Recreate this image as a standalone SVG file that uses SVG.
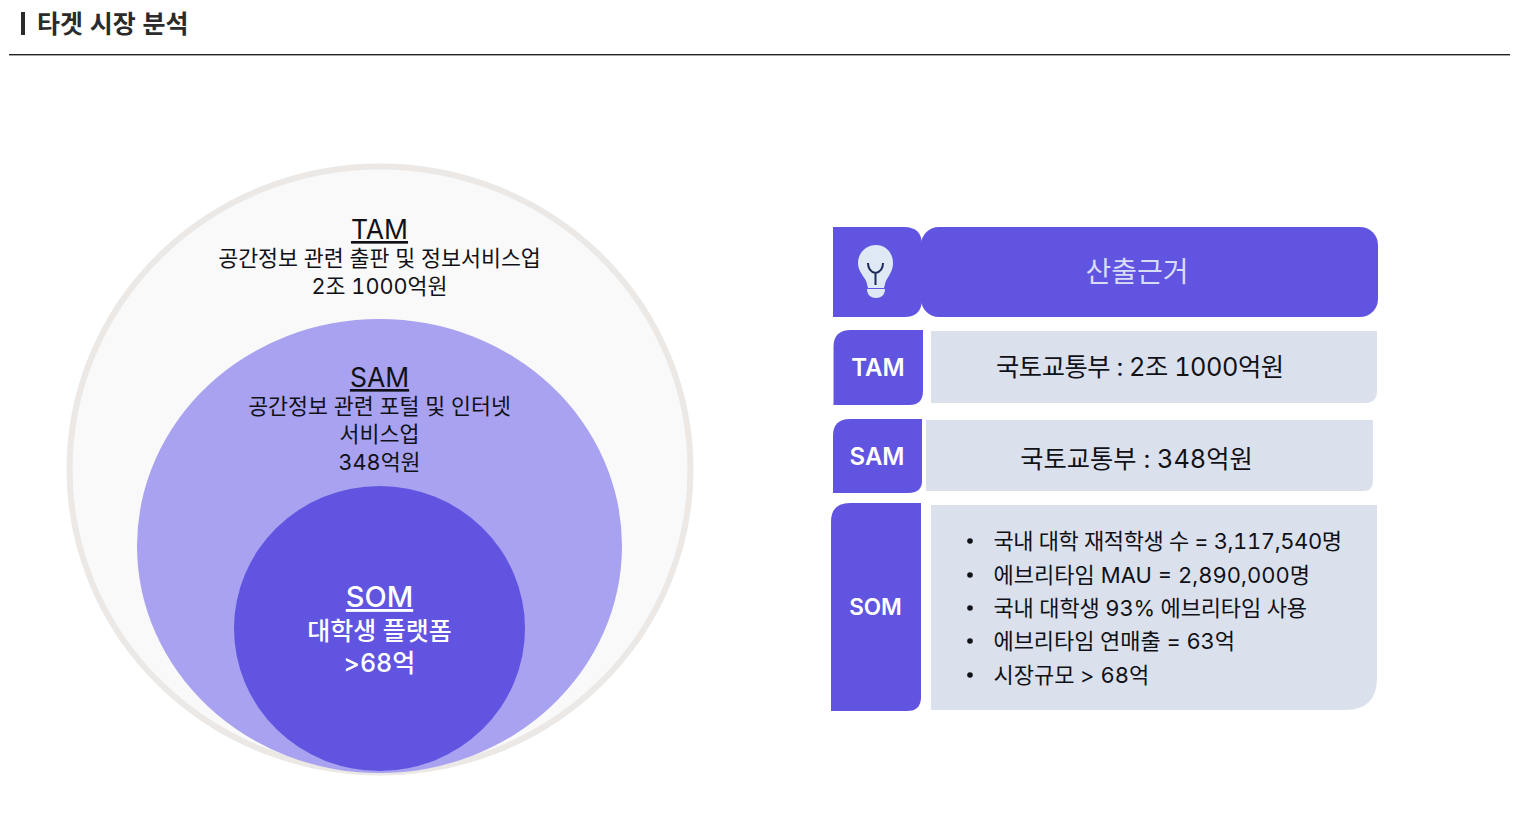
<svg xmlns="http://www.w3.org/2000/svg" width="1530" height="814" viewBox="0 0 1530 814">
<style>
text{font-family:"Inter","Noto Sans CJK KR","Noto Sans",sans-serif;fill:#111118;font-variant-numeric:tabular-nums}
.c{text-anchor:middle}
.p{fill:#6054e0}
.b{fill:#dbe1ec}
.w{fill:#fff}
.t{font-size:21.7px}
.h{font-size:26.5px;text-decoration:underline;text-decoration-thickness:1.5px}
.l{font-size:22px}
.cell{font-size:24px;font-weight:600;fill:#fff}
</style>
<rect width="1530" height="814" fill="#fff"/>
<g id="title">
<rect x="21" y="12" width="4" height="23" fill="#2b2b2b"/>
<text x="37" y="32.500" style="font-size:25px;font-weight:600;fill:#2b2b2b">타겟 시장 분석</text>
<rect x="9" y="54" width="1501" height="1.4" fill="#222"/>
</g>
<g id="tam-circle">
<ellipse cx="380" cy="469.500" rx="310.500" ry="303" fill="#f9f9f9" stroke="#ebe8e6" stroke-width="6"/>
<text class="c h" x="379.500" y="239">TAM</text>
<text class="c t" x="379.500" y="266">공간정보 관련 출판 및 정보서비스업</text>
<text class="c t" x="379.500" y="294">2조 1000억원</text>
</g>
<g id="sam-circle">
<ellipse cx="379.500" cy="546" rx="242.500" ry="227" fill="#a8a2f0"/>
<text class="c h" x="379.500" y="387">SAM</text>
<text class="c t" x="379.500" y="414">공간정보 관련 포털 및 인터넷</text>
<text class="c t" x="379.500" y="442">서비스업</text>
<text class="c t" x="379.500" y="470">348억원</text>
</g>
<g id="som-circle">
<ellipse cx="379.500" cy="628.500" rx="145.500" ry="142.500" class="p"/>
<text class="c h w" x="379.500" y="607" style="font-size:29px;font-weight:500">SOM</text>
<text class="c w" x="379.500" y="639.500" style="font-size:25px;font-weight:500">대학생 플랫폼</text>
<text class="c w" x="379.500" y="671.500" style="font-size:25px;font-weight:500">&gt;68억</text>
</g>
<g id="icon-cell">
<path class="p" d="M833 227H904Q922 227 922 245V299Q922 317 904 317H833Z"/>
<path d="M876 245C866 245 858 253 858 263C858 270 862 274 865 279C867 282 867 285 868 288H884C885 285 885 282 887 279C890 274 893 270 893 263C893 253 886 245 876 245Z" fill="#dfe9f5"/>
<path d="M867 289H885C885 294 882 298 876 298C870 298 867 294 867 289Z" fill="#dfe9f5"/>
<path d="M868 263C868 269 871 272 875.500 273C880 272 883 269 883 263M875.500 273V285" fill="none" stroke="#1e2a5a" stroke-width="2"/>
</g>
<g id="header">
<rect class="p" x="921" y="227" width="457" height="90" rx="18"/>
<text class="c" x="1137" y="281.500" style="font-size:28px;fill:#d9dcf7">산출근거</text>
</g>
<g id="tam-row">
<path class="p" d="M833.500 347Q833.500 330 851 330H923V391Q923 405 909 405H833.500Z"/>
<text class="c cell" x="878" y="376">TAM</text>
<path class="b" d="M931 331H1377V391Q1377 403 1365 403H931Z"/>
<text class="c" x="1140" y="375.500" style="font-size:25.300px" textLength="288" lengthAdjust="spacing">국토교통부 : 2조 1000억원</text>
</g>
<g id="sam-row">
<path class="p" d="M833 436Q833 419 850 419H922V481Q922 493 908 493H833Z"/>
<text class="c cell" x="877" y="465">SAM</text>
<path class="b" d="M926 420H1373V481Q1373 491 1363 491H926Z"/>
<text class="c" x="1136.500" y="467.500" style="font-size:25.300px">국토교통부 : 348억원</text>
</g>
<g id="som-row">
<path class="p" d="M831 522Q831 503 850 503H921V697Q921 711 907 711H831Z"/>
<text class="c cell" x="875.500" y="615" style="font-size:22.500px">SOM</text>
<path class="b" d="M931 505H1377V678Q1377 710 1345 710H931Z"/>
<g fill="#111118">
<circle cx="970" cy="541" r="2.800"/><circle cx="970" cy="575" r="2.800"/><circle cx="970" cy="608" r="2.800"/><circle cx="970" cy="641" r="2.800"/><circle cx="970" cy="675" r="2.800"/>
</g>
<text class="l" x="993.500" y="549" textLength="348.500" lengthAdjust="spacing">국내 대학 재적학생 수 = 3,117,540명</text>
<text class="l" x="993.500" y="583" textLength="316.500" lengthAdjust="spacing">에브리타임 MAU = 2,890,000명</text>
<text class="l" x="993.500" y="616" textLength="313.500" lengthAdjust="spacing">국내 대학생 93% 에브리타임 사용</text>
<text class="l" x="993.500" y="649" textLength="241.500" lengthAdjust="spacing">에브리타임 연매출 = 63억</text>
<text class="l" x="993.500" y="683">시장규모 &gt; 68억</text>
</g>
</svg>
